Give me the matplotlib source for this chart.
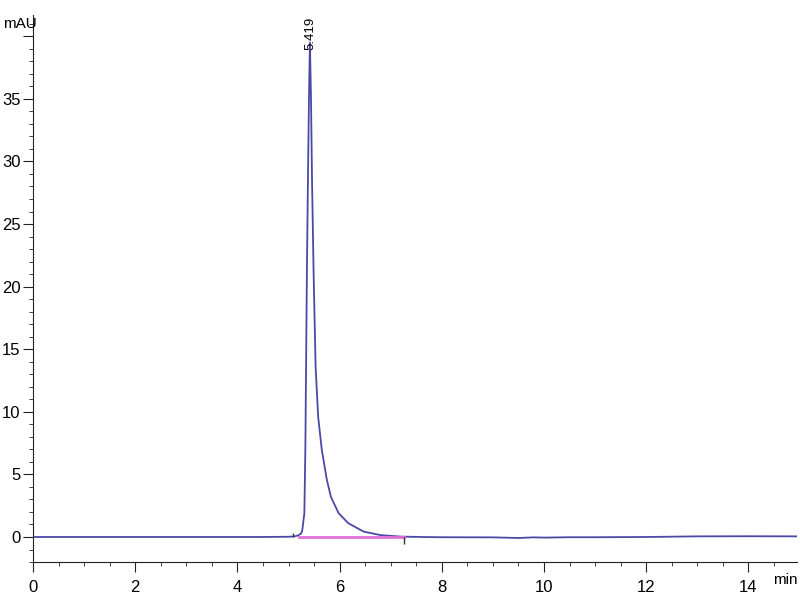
import matplotlib
matplotlib.use("Agg")
import matplotlib.pyplot as plt
from matplotlib.ticker import MultipleLocator, FuncFormatter

# chromatogram (min, mAU)
time_min = [0, 1, 2, 3, 4, 4.5, 5.0, 5.1, 5.15, 5.2, 5.25, 5.27, 5.31, 5.33, 5.34,
            5.36, 5.38, 5.40, 5.419, 5.44, 5.46, 5.49, 5.53, 5.58, 5.65,
            5.75, 5.83, 5.98, 6.17, 6.47, 6.8, 7.2, 7.6, 8.0, 9.0, 9.5, 9.8,
            10.0, 10.5, 11.0, 12.0, 13.0, 14.0, 15.0]
signal_mau = [0, 0, 0, 0, 0, 0, 0.02, 0.04, 0.08, 0.15, 0.3, 0.56, 1.9, 7.2, 12.0,
              21.3, 28.5, 35.0, 39.5, 35.0, 28.5, 21.3, 13.6, 9.6, 7.0,
              4.56, 3.2, 1.9, 1.1, 0.43, 0.15, 0.03, 0, -0.02, -0.03, -0.08, -0.03,
              -0.05, -0.02, -0.02, 0, 0.05, 0.06, 0.05]

peak_rt = 5.419
peak_label = "5.419"
base_start = 5.2
base_end = 7.26

plt.rcParams['font.family'] = ['Liberation Sans Narrow', 'Liberation Sans', 'DejaVu Sans']

fig = plt.figure(figsize=(8, 6), dpi=100)
ax = fig.add_axes([0.04125, 0.0633, 0.955, 0.9117])

ax.plot(time_min, signal_mau, color='#4a4aa6', lw=1.3)
ax.plot([base_start, base_end], [0, 0], color='#e070d8', lw=2)
# integration markers
ax.vlines([5.09], 0, 0.35, color='#333355', lw=1)
ax.vlines([base_end], -0.6, 0, color='#333333', lw=1)

ax.text(peak_rt, 38.9, peak_label, rotation=90, ha='center', va='bottom',
        fontsize=9.5, clip_on=False)

ax.set_xlim(0, 14.95)
ax.set_ylim(-2.0, 41.7)
ax.xaxis.set_major_locator(MultipleLocator(2))
ax.xaxis.set_minor_locator(MultipleLocator(0.5))
ax.yaxis.set_major_locator(MultipleLocator(5))
ax.yaxis.set_minor_locator(MultipleLocator(1))
# top tick has no label, as in the instrument print
ax.yaxis.set_major_formatter(FuncFormatter(lambda v, p: '' if v > 37 else '%d' % v))
ax.tick_params(which='major', direction='out', length=7, labelsize=12, color='#222222')
ax.tick_params(which='minor', direction='out', length=3, color='#222222')
ax.tick_params(axis='x', pad=6)
ax.tick_params(axis='y', pad=2)

for s in ['top', 'right']:
    ax.spines[s].set_visible(False)
for s in ['left', 'bottom']:
    ax.spines[s].set_color('#222222')

fig.text(0.004, 0.96, 'mAU', fontsize=11, va='center', ha='left')
fig.text(0.997, 0.033, 'min', fontsize=11, va='center', ha='right')

plt.savefig("out.png", dpi=100)
